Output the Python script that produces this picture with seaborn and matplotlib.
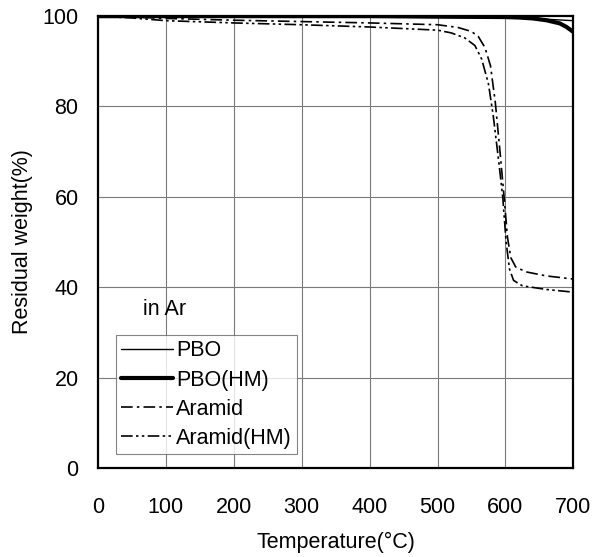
import matplotlib
matplotlib.use("Agg")
import matplotlib.pyplot as plt
import seaborn as sns
import pandas as pd

# Data
pbo_T = [0, 100, 200, 300, 400, 500, 600, 650, 700]
pbo_W = [100.0, 99.9, 99.9, 99.8, 99.8, 99.7, 99.6, 99.4, 99.0]

pbohm_T = [0, 100, 200, 300, 400, 500, 600, 620, 640, 660, 680, 690, 700]
pbohm_W = [100.0, 100.0, 100.0, 100.0, 100.0, 99.9, 99.8, 99.7, 99.5, 99.1, 98.4, 97.6, 96.5]

aramid_T = [0, 50, 100, 200, 300, 400, 500, 530, 550, 560, 570, 578, 585, 592, 598, 603, 608, 615, 630, 660, 700]
aramid_W = [100.0, 99.8, 99.5, 99.1, 98.8, 98.5, 98.1, 97.5, 96.6, 95.5, 93.0, 89.0, 81.0, 70.0, 60.0, 51.0, 46.5, 44.5, 43.4, 42.5, 41.8]

aramidhm_T = [0, 50, 100, 200, 300, 400, 500, 520, 540, 555, 565, 575, 582, 590, 596, 601, 606, 612, 625, 660, 700]
aramidhm_W = [100.0, 99.6, 99.0, 98.5, 98.1, 97.6, 96.9, 96.3, 95.2, 93.5, 90.5, 85.0, 78.0, 68.0, 60.0, 50.0, 44.0, 41.5, 40.3, 39.5, 38.9]

x_ticks = [0, 100, 200, 300, 400, 500, 600, 700]
y_ticks = [0, 20, 40, 60, 80, 100]

sns.set_style("white")
plt.rcParams['font.family'] = ['Liberation Sans', 'DejaVu Sans']
plt.rcParams['text.color'] = 'black'
plt.rcParams['axes.labelcolor'] = 'black'
plt.rcParams['xtick.color'] = 'black'
plt.rcParams['ytick.color'] = 'black'

fig = plt.figure(figsize=(5.92, 5.57), dpi=100)
ax = fig.add_axes([0.1655, 0.160, 0.803, 0.811])

for x in x_ticks[1:-1]:
    ax.axvline(x, color='#7a7a7a', lw=0.8, zorder=0)
for y in y_ticks[1:-1]:
    ax.axhline(y, color='#7a7a7a', lw=0.8, zorder=0)

series = [
    ("PBO", pbo_T, pbo_W, dict(lw=1.0, ls='-')),
    ("PBO(HM)", pbohm_T, pbohm_W, dict(lw=3.0, ls='-')),
    ("Aramid", aramid_T, aramid_W, dict(lw=1.2, ls=(0, (7, 2.5, 1.5, 2.5)))),
    ("Aramid(HM)", aramidhm_T, aramidhm_W, dict(lw=1.2, ls=(0, (7, 2, 1.5, 2, 1.5, 2)))),
]
for name, T, W, st in series:
    df = pd.DataFrame({"T": T, "W": W})
    sns.lineplot(data=df, x="T", y="W", ax=ax, color='black', label=name,
                 linewidth=st['lw'], linestyle=st['ls'], zorder=3)

ax.set_xlim(0, 700)
ax.set_ylim(0, 100)
ax.set_xticks(x_ticks)
ax.set_yticks(y_ticks)
ax.tick_params(axis='x', length=0, pad=21, labelsize=15.5)
ax.tick_params(axis='y', length=0, pad=14, labelsize=15.5)
ax.set_xlabel("Temperature(°C)", fontsize=15.5, labelpad=10)
ax.set_ylabel("Residual weight(%)", fontsize=15.5, labelpad=7)
for s in ax.spines.values():
    s.set_color('black')
    s.set_linewidth(1.6)
    s.set_visible(True)

ax.text(66, 35, "in Ar", fontsize=15.5, va='center', ha='left')

leg = ax.legend(loc='lower left', bbox_to_anchor=(0.038, 0.03), fontsize=15.5,
                frameon=True, fancybox=False, edgecolor='#666666',
                handlelength=2.4, handletextpad=0.15, borderpad=0.25,
                labelspacing=0.38, borderaxespad=0)
leg.get_frame().set_linewidth(0.8)
for t in leg.get_texts():
    t.set_color('black')

fig.savefig("out.png", dpi=100)
